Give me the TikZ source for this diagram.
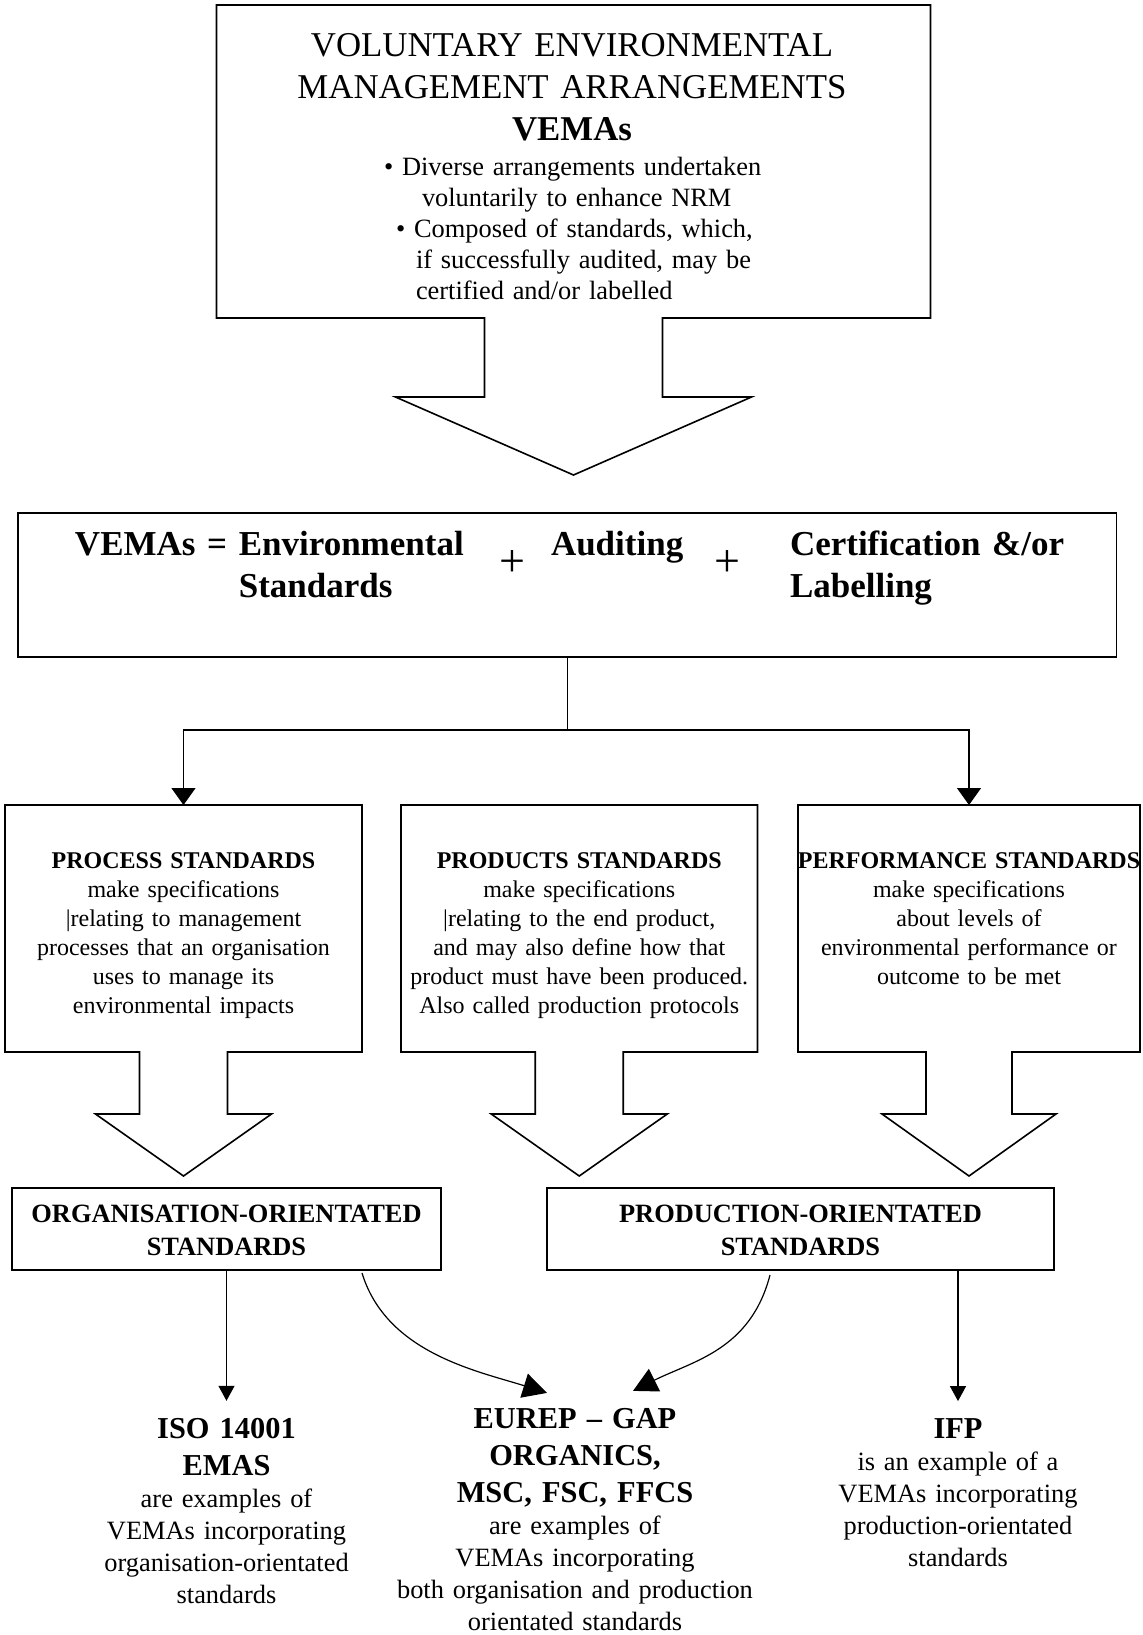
\documentclass[tikz,border=0pt]{standalone}
\usepackage{fontspec}
\setmainfont{Liberation Serif}
\usetikzlibrary{arrows.meta,calc}

\begin{document}
\begin{tikzpicture}[x=0.5pt,y=-0.5pt]
	\tikzstyle{every node}+=[inner sep=0pt,outer sep=0pt]
	\tikzstyle{panel}=[draw=black,line width=0.8pt]
	\tikzstyle{openpanel}=[draw=none]
	\tikzstyle{outline}=[draw=black,line width=0.8pt,line join=miter]
	\tikzstyle{link}=[draw=black,line width=0.6pt]
	\tikzstyle{titletext}=[font=\fontsize{17.4}{21}\selectfont,align=center,text width=330pt,anchor=base]
	\tikzstyle{bullettext}=[font=\fontsize{13.2}{15.5}\selectfont,align=left,text width=220pt,anchor=base west]
	\tikzstyle{sumtext}=[font=\fontsize{17.5}{21}\selectfont\bfseries,align=left,text width=215pt,anchor=base west]
	\tikzstyle{plussign}=[font=\fontsize{23}{27}\selectfont]
	\tikzstyle{stdtext}=[font=\fontsize{12}{14.5}\selectfont,align=center,text width=190pt,anchor=base]
	\tikzstyle{orienttext}=[font=\fontsize{13.2}{16.5}\selectfont\bfseries,align=center,text width=220pt,anchor=base]
	\tikzstyle{exhead}=[font=\fontsize{15.2}{18.5}\selectfont\bfseries,align=center,text width=180pt,anchor=base,inner ysep=8.5pt]
	\tikzstyle{exbody}=[font=\fontsize{13.2}{16}\selectfont,align=center,text width=200pt,anchor=base]
	\useasboundingbox (0,0) rectangle (1142,1635);
	\node [openpanel,minimum width=357pt,minimum height=156.5pt] (vemas) at (573.5,161.5) {};
	\draw [outline] ($(vemas.south)+(-89,0)$) -- ++(0,79) -- ++(-89,0) -- ++(178,78) -- ++(178,-78) -- ++(-89,0) -- ++(0,-79) -- (vemas.south east) -- (vemas.north east) -- (vemas.north west) -- (vemas.south west) -- cycle;
	\node [titletext] (title) at (572,56) {VOLUNTARY ENVIRONMENTAL\\MANAGEMENT ARRANGEMENTS\\\textbf{VEMAs}};
	\node [bullettext] (bullets) at (384,175) {• Diverse arrangements undertaken\\\hspace*{19pt}voluntarily to enhance NRM\\\hspace*{6pt}• Composed of standards, which,\\\hspace*{16pt}if successfully audited, may be\\\hspace*{16pt}certified and/or labelled};
	\node [panel,minimum width=549.25pt,minimum height=72pt] (vemabox) at (567.25,585) {};
	\node [sumtext] (envstd) at (75,555) {VEMAs = Environmental\\\phantom{VEMAs = }Standards};
	\node [plussign] (plusa) at (512,563) {+};
	\node [sumtext] (audit) at (551,555) {Auditing};
	\node [plussign] (plusb) at (727,563) {+};
	\node [sumtext] (certlab) at (790,555) {Certification \&/or\\Labelling};
	\node [openpanel,minimum width=178.5pt,minimum height=123.5pt] (procbox) at (183.5,928.5) {};
	\node [openpanel,minimum width=178.25pt,minimum height=123.5pt] (prodbox) at (579.25,928.5) {};
	\node [openpanel,minimum width=171pt,minimum height=123.5pt] (perfbox) at (969,928.5) {};
	\draw [outline] ($(procbox.south)+(-44,0)$) -- ++(0,62) -- ++(-44,0) -- ++(88,62) -- ++(88,-62) -- ++(-44,0) -- ++(0,-62) -- (procbox.south east) -- (procbox.north east) -- (procbox.north west) -- (procbox.south west) -- cycle;
	\draw [outline] ($(prodbox.south)+(-44,0)$) -- ++(0,62) -- ++(-44,0) -- ++(88,62) -- ++(88,-62) -- ++(-44,0) -- ++(0,-62) -- (prodbox.south east) -- (prodbox.north east) -- (prodbox.north west) -- (prodbox.south west) -- cycle;
	\draw [outline] ($(perfbox.south)+(-43,0)$) -- ++(0,62) -- ++(-44,0) -- ++(87,62) -- ++(87,-62) -- ++(-44,0) -- ++(0,-62) -- (perfbox.south east) -- (perfbox.north east) -- (perfbox.north west) -- (perfbox.south west) -- cycle;
	\coordinate (split) at (567.25,730);
	\draw [link,line width=0.5pt] (vemabox.south) -- (split);
	\draw [link,-{Triangle[length=8.5pt,width=12pt]}] (split) -| (procbox.north);
	\draw [link,-{Triangle[length=8.5pt,width=12pt]}] (split) -| (perfbox.north);
	\node [stdtext] (proctext) at (183.5,868) {\textbf{PROCESS STANDARDS}\\make specifications\\|relating to management\\processes that an organisation\\uses to manage its\\environmental impacts};
	\node [stdtext] (prodtext) at (579.25,868) {\textbf{PRODUCTS STANDARDS}\\make specifications\\|relating to the end product,\\and may also define how that\\product must have been produced.\\Also called production protocols};
	\node [stdtext] (perftext) at (969,868) {\textbf{PERFORMANCE STANDARDS}\\make specifications\\about levels of\\environmental performance or\\outcome to be met};
	\node [panel,minimum width=214.5pt,minimum height=41pt] (orgbox) at (226.5,1229) {};
	\node [panel,minimum width=253.5pt,minimum height=41pt] (prodstd) at (800.5,1229) {};
	\node [orienttext] (orgtext) at (226.5,1222) {ORGANISATION-ORIENTATED\\STANDARDS};
	\node [orienttext] (prodstdtext) at (800.5,1222) {PRODUCTION-ORIENTATED\\STANDARDS};
	\node [exhead] (iso) at (226.5,1438) {ISO 14001\\EMAS};
	\node [exbody] (isotext) at (226.5,1507) {are examples of\\VEMAs incorporating\\organisation-orientated\\standards};
	\node [exhead] (eurep) at (575,1428) {EUREP – GAP\\ORGANICS,\\MSC, FSC, FFCS};
	\node [exbody] (eureptext) at (575,1534) {are examples of\\VEMAs incorporating\\both organisation and production\\orientated standards};
	\node [exhead] (ifp) at (958,1438) {IFP};
	\node [exbody] (ifptext) at (958,1470) {is an example of a\\VEMAs incorporating\\production-orientated\\standards};
	\draw [link,-{Triangle[length=7.5pt,width=8pt]}] (orgbox.south) -- (iso.north);
	\draw [link,-{Triangle[length=7.5pt,width=8pt]}] (prodstd.south -| ifp.north) -- (ifp.north);
	\draw [link,-{Triangle[length=12pt,width=12.5pt]}] ($(orgbox.south)+(135.5,3)$) .. controls ($(orgbox.south)+(160,83)$) and ($(eurep.north)+(-98,-20)$) .. ([xshift=-14pt,yshift=-1pt]eurep.north);
	\draw [link,-{Triangle[length=12pt,width=12.5pt]}] ($(prodstd.south)+(-30.5,5)$) .. controls ($(prodstd.south)+(-50,80)$) and ($(eurep.north)+(118,-30)$) .. ([xshift=29pt]eurep.north);
\end{tikzpicture}
\end{document}
